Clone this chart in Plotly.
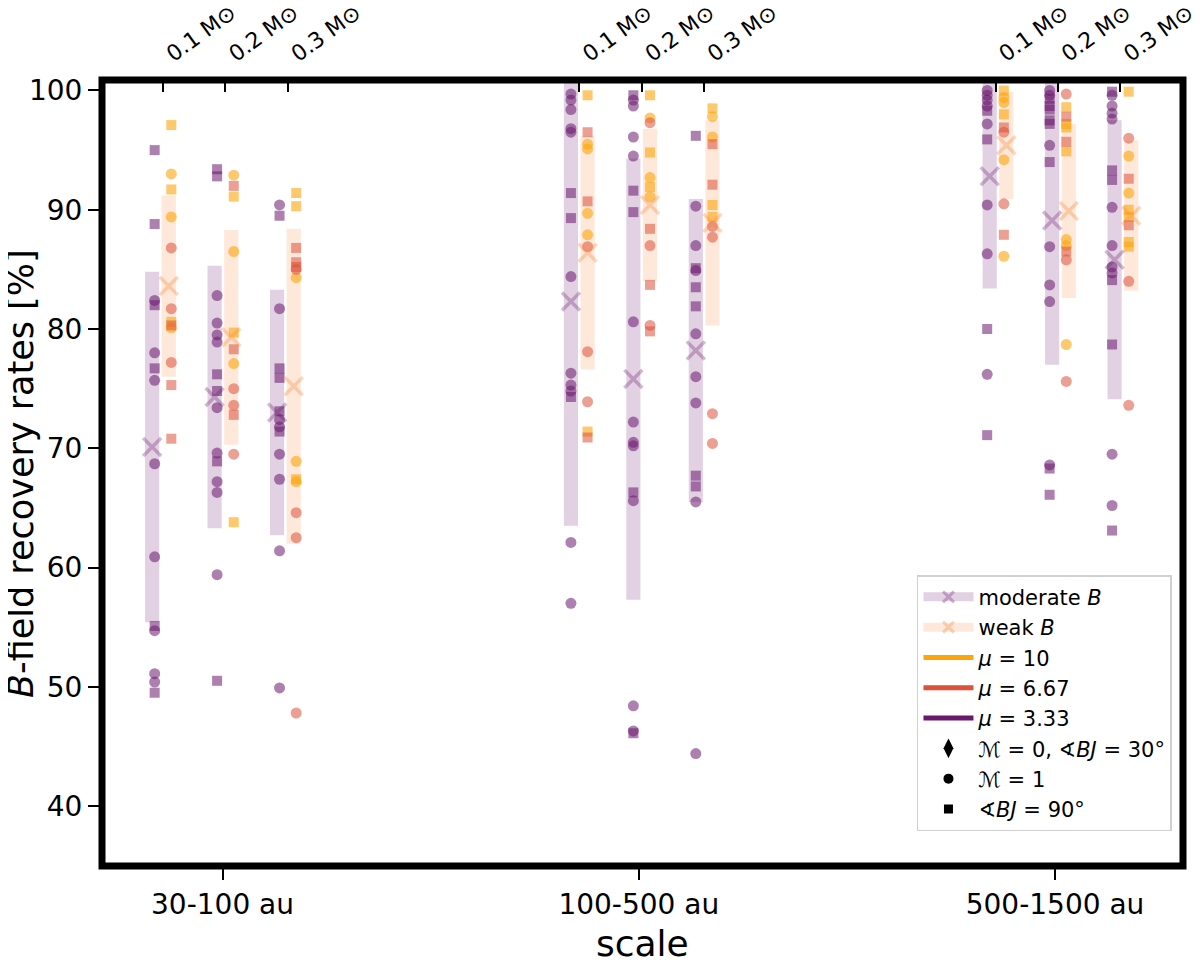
import plotly.graph_objects as go

# ---------------- data ----------------
scales = ["30-100 au", "100-500 au", "500-1500 au"]
masses = ["0.1 M⊙", "0.2 M⊙", "0.3 M⊙"]

# columns ordered: scale0/m0.1, scale0/m0.2, scale0/m0.3, scale1/..., scale2/...
moderate_mean = [70.1, 74.3, 73.0, 82.3, 75.8, 78.2, 92.8, 89.1, 85.8]
moderate_std = [14.7, 11.0, 10.3, 18.8, 18.5, 12.7, 9.4, 12.1, 11.7]
weak_mean = [83.6, 79.3, 75.2, 86.4, 90.4, 88.9, 95.4, 89.9, 89.5]
weak_std = [7.6, 9.0, 13.2, 9.8, 6.4, 8.6, 4.5, 7.3, 6.3]

# moderate B points (mu = 3.33)
mod_circ = [
    [82.4, 78.0, 75.7, 68.7, 60.9, 54.7, 51.1, 50.4],
    [82.8, 80.5, 79.5, 78.9, 73.4, 69.6, 67.2, 66.3, 59.4],
    [90.4, 81.7, 72.4, 71.8, 69.5, 67.4, 61.4, 49.9],
    [99.7, 99.2, 98.4, 96.8, 96.5, 84.4, 76.3, 75.3, 74.8, 62.1, 57.0],
    [99.2, 98.7, 96.1, 94.5, 80.6, 72.2, 70.5, 70.2, 65.6, 48.4, 46.3],
    [90.3, 87.0, 84.9, 79.6, 76.0, 73.8, 65.5, 44.4],
    [100.0, 99.6, 99.2, 98.7, 97.2, 90.4, 86.3, 76.2],
    [100.0, 99.6, 95.4, 86.9, 83.7, 82.3, 68.6],
    [99.6, 98.7, 98.1, 97.6, 90.2, 87.0, 85.2, 84.7, 69.5, 65.2],
]
mod_sq = [
    [95.0, 88.8, 82.0, 76.7, 55.1, 49.5],
    [93.4, 92.8, 76.2, 74.8, 68.9, 50.5],
    [89.5, 76.7, 75.9, 73.1, 71.4],
    [91.4, 89.3, 74.3],
    [99.6, 91.6, 89.8, 66.3, 46.1],
    [96.2, 85.1, 83.5, 81.9, 67.7, 66.8],
    [98.3, 95.9, 80.0, 71.1],
    [99.3, 98.7, 98.4, 97.5, 97.2, 94.0, 68.3, 66.1],
    [99.9, 93.3, 92.5, 84.1, 78.7, 63.1],
]
# weak B points, mu = 10
w10_circ = [
    [93.0, 89.4, 80.1],
    [92.9, 86.5, 77.1],
    [84.3, 68.9, 67.2],
    [95.5, 95.1, 89.7, 87.9],
    [97.7, 92.7, 91.1],
    [97.8, 96.1],
    [99.4, 99.0, 94.2, 86.1],
    [87.5, 87.0, 78.7],
    [94.5, 91.4],
]
w10_sq = [
    [97.1, 91.7, 80.6],
    [91.1, 79.7, 63.8],
    [91.4, 90.3, 67.4],
    [99.6, 71.4],
    [99.6, 94.8, 91.9],
    [98.5, 90.4, 89.4],
    [100.0, 98.0],
    [98.6, 97.2, 96.9, 94.9],
    [99.9, 90.0, 89.4, 87.3, 86.9],
]
# weak B points, mu = 6.67
w667_circ = [
    [86.8, 81.7, 77.2],
    [75.0, 73.6, 69.5],
    [85.0, 64.6, 62.5, 47.8],
    [86.9, 78.1, 73.9],
    [97.3, 87.0, 80.3],
    [88.6, 87.7, 72.9, 70.4],
    [96.5, 90.5],
    [99.7, 85.8, 75.6],
    [96.0, 84.0, 73.6],
]
w667_sq = [
    [80.3, 75.3, 70.8],
    [92.0, 78.3, 72.8],
    [86.8, 85.6, 85.2],
    [96.5, 90.7, 70.9],
    [88.4, 83.7, 79.8],
    [95.5, 92.1],
    [96.9, 87.9],
    [97.8, 95.7, 86.5],
    [92.6, 88.7],
]

# ---------------- geometry / style ----------------
MASS_STEP = 0.15
TICK_SHIFT = 0.007
PT_OFF = 0.020
BAR_SHIFT = 0.006
BAR_W = 0.034

C10 = "#fca50a"
C667 = "#dd513a"
C333 = "#6a176e"

tick_x, mod_x, weak_x, mod_bx, weak_bx = [], [], [], [], []
for g in range(len(scales)):
    for m in range(len(masses)):
        t = g + (m - 1) * MASS_STEP + TICK_SHIFT
        tick_x.append(t)
        mod_x.append(t - PT_OFF)
        weak_x.append(t + PT_OFF)
        mod_bx.append(t - PT_OFF + (g - 1) * BAR_SHIFT)
        weak_bx.append(t + PT_OFF + (g - 1) * BAR_SHIFT)

fig = go.Figure()

# bars (mean +- std)
fig.add_trace(go.Bar(x=mod_bx, y=[2 * s for s in moderate_std],
                     base=[mu - s for mu, s in zip(moderate_mean, moderate_std)],
                     width=BAR_W, marker=dict(color="rgba(106,23,110,0.2)", line=dict(width=0)),
                     showlegend=False, hoverinfo="skip"))
fig.add_trace(go.Bar(x=weak_bx, y=[2 * s for s in weak_std],
                     base=[mu - s for mu, s in zip(weak_mean, weak_std)],
                     width=BAR_W, marker=dict(color="rgba(248,140,70,0.2)", line=dict(width=0)),
                     showlegend=False, hoverinfo="skip"))


def pts(xs, groups, color, symbol, size):
    X, Y = [], []
    for x, vals in zip(xs, groups):
        X += [x] * len(vals)
        Y += vals
    fig.add_trace(go.Scatter(x=X, y=Y, mode="markers", showlegend=False,
                             marker=dict(symbol=symbol, size=size, color=color, line=dict(width=0))))


pts(mod_x, mod_circ, "rgba(106,23,110,0.55)", "circle", 11)
pts(mod_x, mod_sq, "rgba(106,23,110,0.55)", "square", 10)
pts(weak_x, w10_circ, "rgba(252,165,10,0.6)", "circle", 11)
pts(weak_x, w10_sq, "rgba(252,165,10,0.6)", "square", 10)
pts(weak_x, w667_circ, "rgba(221,81,58,0.55)", "circle", 11)
pts(weak_x, w667_sq, "rgba(221,81,58,0.55)", "square", 10)

# mean markers
fig.add_trace(go.Scatter(x=mod_bx, y=moderate_mean, mode="markers", showlegend=False,
                         marker=dict(symbol="x-thin", size=18, line=dict(width=3.5, color="rgba(106,23,110,0.3)"))))
fig.add_trace(go.Scatter(x=weak_bx, y=weak_mean, mode="markers", showlegend=False,
                         marker=dict(symbol="x-thin", size=18, line=dict(width=3.5, color="rgba(248,140,60,0.35)"))))

# legend entries
leg = [
    dict(name="moderate <i>B</i>", mode="lines+markers",
         line=dict(color="rgba(106,23,110,0.2)", width=9),
         marker=dict(symbol="x-thin", size=11, line=dict(width=3, color="rgba(106,23,110,0.3)"))),
    dict(name="weak <i>B</i>", mode="lines+markers",
         line=dict(color="rgba(248,140,70,0.2)", width=9),
         marker=dict(symbol="x-thin", size=11, line=dict(width=3, color="rgba(248,140,60,0.35)"))),
    dict(name="<i>μ</i> = 10", mode="lines", line=dict(color=C10, width=5)),
    dict(name="<i>μ</i> = 6.67", mode="lines", line=dict(color=C667, width=5)),
    dict(name="<i>μ</i> = 3.33", mode="lines", line=dict(color=C333, width=5)),
    dict(name="<i>ℳ</i> = 0, ∢<i>BJ</i> = 30°", mode="markers",
         marker=dict(symbol="diamond-tall", size=14, color="black")),
    dict(name="<i>ℳ</i> = 1", mode="markers", marker=dict(symbol="circle", size=10, color="black")),
    dict(name="∢<i>BJ</i> = 90°", mode="markers", marker=dict(symbol="square", size=9, color="black")),
]
for i, d in enumerate(leg):
    fig.add_trace(go.Scatter(x=[None], y=[None], showlegend=True, legendgroup=f"g{i}", **d))

# top axis dummy trace
fig.add_trace(go.Scatter(x=[tick_x[0]], y=[None], xaxis="x2", showlegend=False, hoverinfo="skip"))

XR = [-0.2895, 2.3074]
YR = [34.97, 100.88]
fig.update_layout(
    width=1200, height=962,
    margin=dict(l=94, r=25, t=72, b=104, autoexpand=False),
    paper_bgcolor="white", plot_bgcolor="white",
    font=dict(family="DejaVu Sans", color="black"),
    barmode="overlay",
    xaxis=dict(range=XR, tickmode="array", tickvals=[0, 1, 2], ticktext=scales,
               ticks="outside", ticklen=13, tickwidth=2, tickcolor="black", automargin=False,
               tickfont=dict(size=28), showgrid=False, zeroline=False, showline=False),
    xaxis2=dict(range=XR, overlaying="x", side="top", tickmode="array",
                tickvals=tick_x, ticktext=masses * len(scales), tickangle=-36,
                ticks="inside", ticklen=12, tickwidth=2, tickcolor="black", automargin=False,
                ticklabelstandoff=10, ticklabelshift=4,
                tickfont=dict(size=22), showgrid=False, zeroline=False, showline=False),
    yaxis=dict(range=YR, tickmode="array", tickvals=[40, 50, 60, 70, 80, 90, 100],
               ticks="outside", ticklen=13, tickwidth=2, tickcolor="black", automargin=False,
               tickfont=dict(size=28), showgrid=False, zeroline=False, showline=False),
    legend=dict(x=0.9898, y=0.370, xanchor="right", yanchor="top",
                bgcolor="rgba(255,255,255,0.85)", bordercolor="#d0d0d0", borderwidth=1.5,
                font=dict(size=21), itemwidth=50, tracegroupgap=0, traceorder="grouped"),
    shapes=[dict(type="rect", xref="paper", yref="paper", x0=0, x1=1, y0=0, y1=1,
                 line=dict(color="black", width=7), layer="above")],
    annotations=[
        dict(text="<i>B</i>-field recovery rates [%]", xref="paper", yref="paper",
             x=-0.075, y=0.5, textangle=-90, showarrow=False, font=dict(size=35),
             xanchor="center", yanchor="middle"),
        dict(text="scale", xref="paper", yref="paper", x=0.5, y=-0.098,
             showarrow=False, font=dict(size=36), xanchor="center", yanchor="middle"),
    ],
)

fig.write_html("out.html")
